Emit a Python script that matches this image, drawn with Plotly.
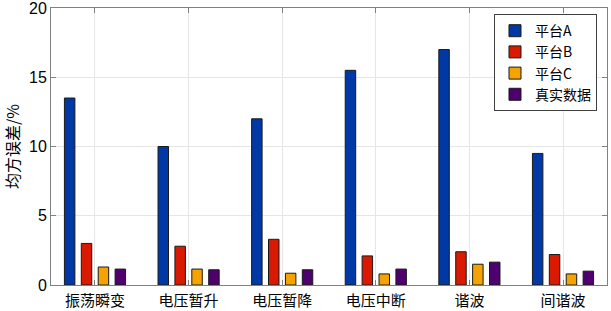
import plotly.graph_objects as go

categories = ["振荡瞬变", "电压暂升", "电压暂降", "电压中断", "谐波", "间谐波"]
series_names = ["平台A", "平台B", "平台C", "真实数据"]
platform_a = [13.5, 10.0, 12.0, 15.5, 17.0, 9.5]
platform_b = [3.0, 2.8, 3.3, 2.1, 2.4, 2.2]
platform_c = [1.3, 1.15, 0.85, 0.8, 1.5, 0.8]
real_data = [1.15, 1.1, 1.1, 1.15, 1.65, 1.0]
y_ticks = [0, 5, 10, 15, 20]

colors = ["#0039A6", "#D91A00", "#F4A300", "#4E006E"]
values = [platform_a, platform_b, platform_c, real_data]

FONT = "Liberation Sans, Arial, Noto Sans CJK SC, sans-serif"
CJK = "Noto Sans CJK SC"

fig = go.Figure()
for name, vals, col in zip(series_names, values, colors):
    fig.add_trace(go.Bar(
        x=categories, y=vals, name=name,
        marker=dict(color=col, line=dict(color="#1a1a1a", width=1)),
    ))

fig.update_layout(
    width=611, height=311,
    margin=dict(l=51, r=4, t=8, b=26),
    paper_bgcolor="white", plot_bgcolor="white",
    barmode="group", bargap=0.278, bargroupgap=0.38,
    font=dict(family=FONT, size=15, color="#262626"),
    showlegend=True,
    legend=dict(
        x=0.982, y=0.978, xanchor="right", yanchor="top",
        bgcolor="white", bordercolor="#404040", borderwidth=1,
        font=dict(family=CJK, size=14, color="#000000"),
        tracegroupgap=0, itemwidth=30,
    ),
    xaxis=dict(
        type="category", range=[-0.47, 5.47], automargin=False,
        showgrid=True, gridcolor="#E6E6E6", gridwidth=1,
        showline=True, linecolor="#808080", linewidth=1, mirror="ticks",
        ticks="inside", ticklen=5, tickcolor="#808080",
        ticklabelstandoff=2,
        tickfont=dict(family=CJK, size=15, color="#000000"),
        zeroline=False,
    ),
    yaxis=dict(
        range=[0, 20], tickvals=y_ticks, automargin=False,
        ticklabeloverflow="allow",
        showgrid=True, gridcolor="#E6E6E6", gridwidth=1,
        showline=True, linecolor="#808080", linewidth=1, mirror="ticks",
        ticks="inside", ticklen=5, tickcolor="#808080",
        tickfont=dict(family=FONT, size=16, color="#000000"),
        title=dict(text="均方误差/%", standoff=10,
                   font=dict(family=CJK, size=16, color="#000000")),
        zeroline=False,
    ),
)

fig.write_html(
    "out.html",
    config={"displayModeBar": False},
    post_script="document.body.style.margin='0';document.body.style.overflow='hidden';",
)
